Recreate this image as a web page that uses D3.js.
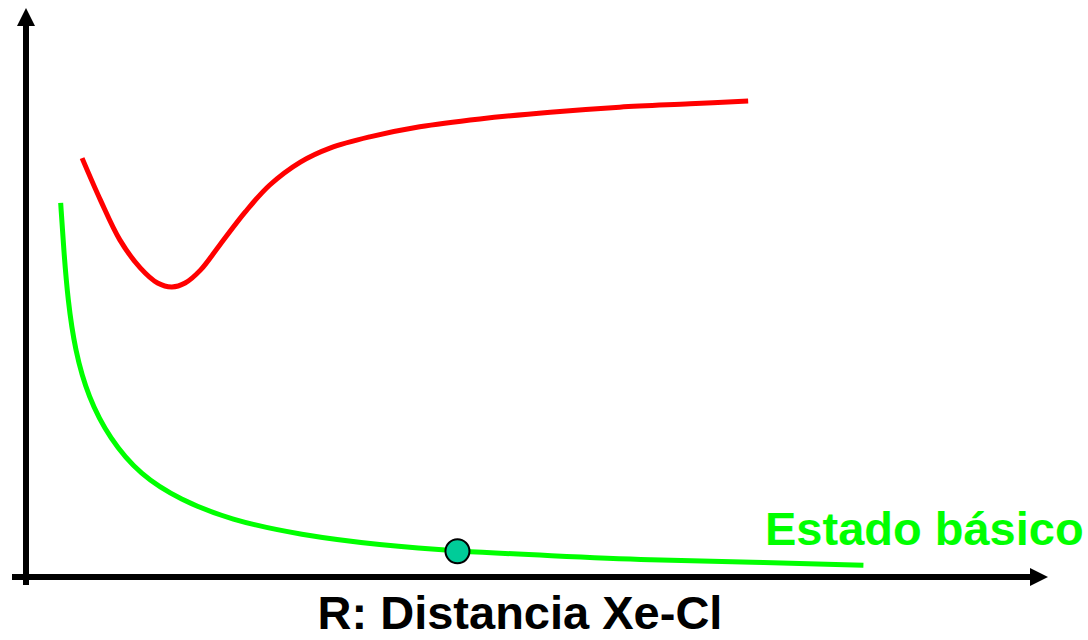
<!DOCTYPE html>
<html>
<head>
<meta charset="utf-8">
<script src="https://cdn.jsdelivr.net/npm/d3@7"></script>
<style>
  html, body { margin: 0; padding: 0; background: #fff; }
  svg { display: block; }
  text { font-family: "Liberation Sans", Arial, sans-serif; font-weight: bold; }
</style>
</head>
<body>
<svg id="chart" width="1088" height="640"></svg>
<script>
// Excited state (red) curve: R distance vs energy (arbitrary units)
const excitedR = [0.55, 0.73, 0.92, 1.12, 1.29, 1.43, 1.56, 1.71, 1.90, 2.15, 2.39, 2.69, 2.98, 3.37, 3.86, 4.45, 5.14, 5.82, 6.51, 7.08];
const excitedE = [7.48, 6.73, 6.02, 5.52, 5.25, 5.18, 5.25, 5.48, 5.93, 6.52, 7.00, 7.41, 7.66, 7.86, 8.04, 8.18, 8.30, 8.39, 8.45, 8.50];

// Ground state (green) curve
const groundR = [0.34, 0.37, 0.41, 0.48, 0.61, 0.82, 1.12, 1.51, 2.00, 2.69, 3.47, 4.23, 5.14, 6.12, 7.10, 8.21];
const groundE = [6.68, 5.84, 4.95, 4.05, 3.21, 2.47, 1.82, 1.38, 1.02, 0.75, 0.57, 0.46, 0.38, 0.30, 0.27, 0.21];

// Marked point on the ground state
const pointR = [4.23];
const pointE = [0.46];

const groundLabel = "Estado básico";
const xAxisLabel = "R: Distancia Xe-Cl";

const svg = d3.select("#chart");
const x = d3.scaleLinear().domain([0, 10]).range([26, 1046]);
const y = d3.scaleLinear().domain([0, 10]).range([577, 17]);

const lineRed = d3.line()
  .x(d => x(d[0]))
  .y(d => y(d[1]))
  .curve(d3.curveCatmullRom.alpha(0.5));

const lineGreen = d3.line()
  .x(d => x(d[0]))
  .y(d => y(d[1]))
  .curve(d3.curveBasis);

const excited = excitedR.map((r, i) => [r, excitedE[i]]);
const ground = groundR.map((r, i) => [r, groundE[i]]);

// Axes
const x0 = x(0), y0 = y(0);
svg.append("line")
  .attr("x1", x0).attr("x2", x0)
  .attr("y1", y0 + 8).attr("y2", 25)
  .attr("stroke", "#000").attr("stroke-width", 6);
svg.append("path")
  .attr("d", `M${x0},8 L${x0 - 9},26 L${x0 + 9},26 Z`)
  .attr("fill", "#000");
svg.append("line")
  .attr("x1", x0 - 14).attr("x2", 1031)
  .attr("y1", y0).attr("y2", y0)
  .attr("stroke", "#000").attr("stroke-width", 6);
svg.append("path")
  .attr("d", `M1048,${y0} L1030,${y0 - 9} L1030,${y0 + 9} Z`)
  .attr("fill", "#000");

// Curves
svg.append("path")
  .datum(excited)
  .attr("d", lineRed)
  .attr("fill", "none")
  .attr("stroke", "#ff0000")
  .attr("stroke-width", 5);

svg.append("path")
  .datum(ground)
  .attr("d", lineGreen)
  .attr("fill", "none")
  .attr("stroke", "#00ff00")
  .attr("stroke-width", 5);

// Point
svg.selectAll("circle.pt")
  .data(pointR.map((r, i) => [r, pointE[i]]))
  .join("circle")
  .attr("class", "pt")
  .attr("cx", d => x(d[0]))
  .attr("cy", d => y(d[1]))
  .attr("r", 12)
  .attr("fill", "#00cc99")
  .attr("stroke", "#000")
  .attr("stroke-width", 2);

// Labels
svg.append("text")
  .attr("x", 765).attr("y", 545)
  .attr("fill", "#00ff00")
  .attr("font-size", 47)
  .text(groundLabel);

svg.append("text")
  .attr("x", 520).attr("y", 629)
  .attr("text-anchor", "middle")
  .attr("fill", "#000")
  .attr("font-size", 47)
  .text(xAxisLabel);
</script>
</body>
</html>
